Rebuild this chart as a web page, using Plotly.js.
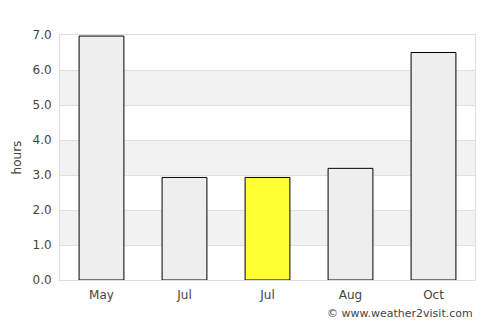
<!DOCTYPE html>
<html>
<head>
<meta charset="utf-8">
<script src="https://cdn.plot.ly/plotly-3.0.1.min.js"></script>
<style>html,body{margin:0;padding:0;background:#fff;}#chart{width:500px;height:325px;}</style>
</head>
<body>
<div id="chart"></div>
<script>
const months = ["May", "Jul", "Jul", "Aug", "Oct"];
const hours = [6.97, 2.93, 2.93, 3.19, 6.5];
const barColors = ["#eeeeee", "#eeeeee", "#ffff33", "#eeeeee", "#eeeeee"];
const yTicks = [0, 1, 2, 3, 4, 5, 6, 7];
const bands = [[1, 2], [3, 4], [5, 6]];

const idx = months.map((m, i) => i);
const shapes = bands.map(b => ({
  type: "rect", xref: "paper", yref: "y", x0: 0, x1: 1, y0: b[0], y1: b[1],
  fillcolor: "#f2f2f2", line: {width: 0}, layer: "below"
}));

Plotly.newPlot("chart", [{
  type: "bar",
  x: idx,
  y: hours,
  marker: {color: barColors, line: {color: "#000000", width: 1}},
  width: 0.54,
  hoverinfo: "none"
}], {
  width: 500, height: 325,
  margin: {l: 60, r: 25, t: 35, b: 45},
  paper_bgcolor: "#ffffff",
  plot_bgcolor: "rgba(0,0,0,0)",
  font: {family: "DejaVu Sans", size: 12, color: "#444444"},
  showlegend: false,
  shapes: shapes,
  xaxis: {
    range: [-0.5, 4.5],
    tickvals: idx, ticktext: months,
    showgrid: false, zeroline: false,
    showline: true, linecolor: "#dddddd", mirror: true,
    ticks: "", ticklen: 0,
    ticklabelstandoff: 4,
    tickfont: {size: 12, color: "#444444"}
  },
  yaxis: {
    range: [0, 7],
    tickvals: yTicks, ticktext: yTicks.map(v => v.toFixed(1)),
    showgrid: true, gridcolor: "#e0e0e0", gridwidth: 1,
    zeroline: false,
    showline: true, linecolor: "#dddddd", mirror: true,
    ticks: "",
    ticklabelstandoff: 5,
    tickfont: {size: 12, color: "#444444"},
    title: {text: "hours", font: {size: 12, color: "#444444"}, standoff: 8}
  },
  annotations: [{
    text: "© www.weather2visit.com",
    xref: "paper", yref: "paper", x: 1, y: 0,
    xanchor: "right", yanchor: "top", yshift: -25,
    showarrow: false,
    font: {size: 11, color: "#444444"}
  }]
}, {displayModeBar: false, staticPlot: true});
</script>
</body>
</html>
